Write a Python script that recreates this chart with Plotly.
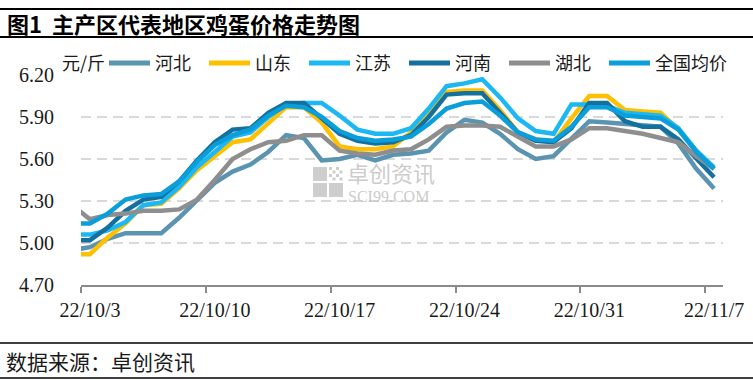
import plotly.graph_objects as go
import pandas as pd

# ---- data (first day 22/10/2 is only the clipped lead-in at the left edge) ----
dates = pd.date_range("2022-10-02", "2022-11-07", freq="D")
tick_labels = ["22/10/3", "22/10/10", "22/10/17", "22/10/24", "22/10/31", "22/11/7"]
tick_dates = ["2022-10-02 12:00", "2022-10-09 12:00", "2022-10-16 12:00",
              "2022-10-23 12:00", "2022-10-30 12:00", "2022-11-06 12:00"]

hebei = [4.95, 4.97, 5.03, 5.07, 5.07, 5.07, 5.18, 5.30, 5.43, 5.51, 5.56, 5.65, 5.77, 5.75,
         5.59, 5.60, 5.63, 5.59, 5.63, 5.64, 5.66, 5.79, 5.88, 5.86, 5.78, 5.67, 5.60, 5.62,
         5.74, 5.87, 5.86, 5.85, 5.84, 5.83, 5.71, 5.53, 5.39]
shandong = [4.92, 4.92, 5.04, 5.14, 5.27, 5.28, 5.39, 5.52, 5.62, 5.72, 5.74, 5.85, 5.97, 5.97,
            5.86, 5.69, 5.67, 5.67, 5.69, 5.79, 5.93, 6.08, 6.09, 6.09, 5.95, 5.79, 5.74, 5.72,
            5.89, 6.05, 6.05, 5.95, 5.94, 5.93, 5.81, 5.66, 5.53]
jiangsu = [5.06, 5.06, 5.09, 5.15, 5.27, 5.29, 5.40, 5.54, 5.65, 5.76, 5.79, 5.90, 5.99, 6.00,
           6.00, 5.91, 5.81, 5.78, 5.78, 5.82, 5.96, 6.12, 6.14, 6.17, 6.04, 5.89, 5.80, 5.78,
           5.99, 5.99, 5.98, 5.93, 5.92, 5.91, 5.82, 5.66, 5.54]
henan = [5.02, 5.02, 5.11, 5.23, 5.31, 5.33, 5.44, 5.59, 5.72, 5.81, 5.82, 5.93, 6.00, 6.00,
         5.89, 5.78, 5.73, 5.71, 5.72, 5.77, 5.90, 6.06, 6.07, 6.07, 5.93, 5.79, 5.73, 5.72,
         5.82, 6.00, 6.00, 5.87, 5.83, 5.83, 5.74, 5.61, 5.47]
hubei = [5.27, 5.17, 5.20, 5.21, 5.23, 5.23, 5.24, 5.31, 5.45, 5.60, 5.67, 5.72, 5.73, 5.77,
         5.77, 5.66, 5.64, 5.63, 5.66, 5.67, 5.74, 5.83, 5.84, 5.84, 5.83, 5.76, 5.69, 5.69,
         5.74, 5.82, 5.82, 5.80, 5.78, 5.75, 5.72, 5.62, 5.53]
national = [5.14, 5.14, 5.21, 5.31, 5.34, 5.35, 5.44, 5.58, 5.70, 5.77, 5.81, 5.91, 5.98, 5.97,
            5.90, 5.80, 5.75, 5.73, 5.74, 5.76, 5.85, 5.96, 6.00, 6.01, 5.91, 5.79, 5.74, 5.73,
            5.83, 5.97, 5.97, 5.91, 5.90, 5.89, 5.81, 5.65, 5.53]

series = [
    ("河北", hebei, "#5B94B1"),
    ("山东", shandong, "#FFC000"),
    ("江苏", jiangsu, "#1BB8F3"),
    ("河南", henan, "#14709F"),
    ("湖北", hubei, "#8E8E8E"),
    ("全国均价", national, "#0A9FDA"),
]

# ---- layout geometry ----
W, H = 753, 380
L, R, T, B = 81, 30, 75, 95
PW, PH = W - L - R, H - T - B


def px(x):
    return (x - L) / PW


def py(y):
    return (H - B - y) / PH


CJK = "Noto Sans CJK SC"
SERIF = "Liberation Serif, Noto Sans CJK SC"
TXT = "#1a1a1a"

fig = go.Figure()
for name, vals, color in series:
    fig.add_trace(go.Scatter(x=dates, y=vals, mode="lines", name=name,
                             line=dict(color=color, width=4.5), showlegend=False))

shapes = []
annotations = []

# horizontal rules
for yy, wd in [(9, 2), (37, 2), (343, 1.6), (378, 1.6)]:
    shapes.append(dict(type="line", xref="paper", yref="paper", x0=px(0), x1=px(W),
                       y0=py(yy), y1=py(yy), line=dict(color="#000000", width=wd)))

# legend drawn as a row of samples
leg_x0 = 109
leg_pitch = 100
leg_y = 63
for i, (name, vals, color) in enumerate(series):
    x0 = leg_x0 + i * leg_pitch
    shapes.append(dict(type="line", xref="paper", yref="paper", x0=px(x0), x1=px(x0 + 41),
                       y0=py(leg_y), y1=py(leg_y), line=dict(color=color, width=5)))
    annotations.append(dict(text=name, xref="paper", yref="paper", x=px(x0 + 44), y=py(leg_y - 1),
                            xanchor="left", yanchor="middle", showarrow=False,
                            font=dict(family=CJK, size=18, color=TXT)))

# watermark logo squares
wm = "rgba(190,190,190,0.75)"
for (x0, y0) in [(313, 167), (313, 183), (329, 183)]:
    shapes.append(dict(type="rect", xref="paper", yref="paper", x0=px(x0), x1=px(x0 + 14),
                       y0=py(y0 + 14), y1=py(y0), line=dict(width=0), fillcolor=wm, layer="below"))
for i in range(4):
    for j in range(4):
        if (i + j) % 2 == 0:
            x0 = 329 + i * 3.5
            y0 = 167 + j * 3.5
            shapes.append(dict(type="rect", xref="paper", yref="paper", x0=px(x0), x1=px(x0 + 3),
                               y0=py(y0 + 3), y1=py(y0), line=dict(width=0), fillcolor=wm,
                               layer="below"))

annotations += [
    dict(text="<b>图1  主产区代表地区鸡蛋价格走势图</b>", xref="paper", yref="paper",
         x=px(5), y=py(23), xanchor="left", yanchor="middle", showarrow=False,
         font=dict(family=CJK, size=22, color="#000000")),
    dict(text="数据来源：卓创资讯", xref="paper", yref="paper",
         x=px(4), y=py(361), xanchor="left", yanchor="middle", showarrow=False,
         font=dict(family=CJK, size=21, color=TXT)),
    dict(text="元/斤", xref="paper", yref="paper",
         x=px(60), y=py(62), xanchor="left", yanchor="middle", showarrow=False,
         font=dict(family=CJK, size=18, color=TXT)),
    dict(text="卓创资讯", xref="paper", yref="paper",
         x=px(346), y=py(172), xanchor="left", yanchor="middle", showarrow=False,
         borderpad=0, font=dict(family=CJK, size=22, color="rgba(190,190,190,0.8)")),
    dict(text="SCI99.COM", xref="paper", yref="paper",
         x=px(347), y=py(196), xanchor="left", yanchor="middle", showarrow=False,
         borderpad=0, font=dict(family="Liberation Serif", size=16, color="rgba(190,190,190,0.8)")),
]

fig.update_layout(
    width=W, height=H,
    margin=dict(l=L, r=R, t=T, b=B, autoexpand=False),
    paper_bgcolor="white", plot_bgcolor="white",
    showlegend=False,
    shapes=shapes,
    annotations=annotations,
    xaxis=dict(type="date", automargin=False,
               range=[pd.Timestamp("2022-10-02 12:00"), pd.Timestamp("2022-11-07 12:00")],
               tickvals=tick_dates, ticktext=tick_labels, ticklabelshift=9,
               ticks="outside", ticklen=6, tickwidth=2, tickcolor="#8A8A8A",
               showline=True, linecolor="#8A8A8A", linewidth=2,
               showgrid=False, zeroline=False,
               tickfont=dict(family=SERIF, size=20, color=TXT)),
    yaxis=dict(range=[4.70, 6.20], tick0=4.70, dtick=0.30, tickformat=".2f", automargin=False,
               showgrid=True, gridcolor="#D9D9D9", gridwidth=1.5, griddash="10px,6px",
               showline=False, zeroline=False, ticks="", ticklabelstandoff=26,
               tickfont=dict(family=SERIF, size=20, color=TXT)),
)

fig.write_html("out.html", config={"displayModeBar": False},
               post_script="document.body.style.margin='0px';document.body.style.overflow='hidden';")
